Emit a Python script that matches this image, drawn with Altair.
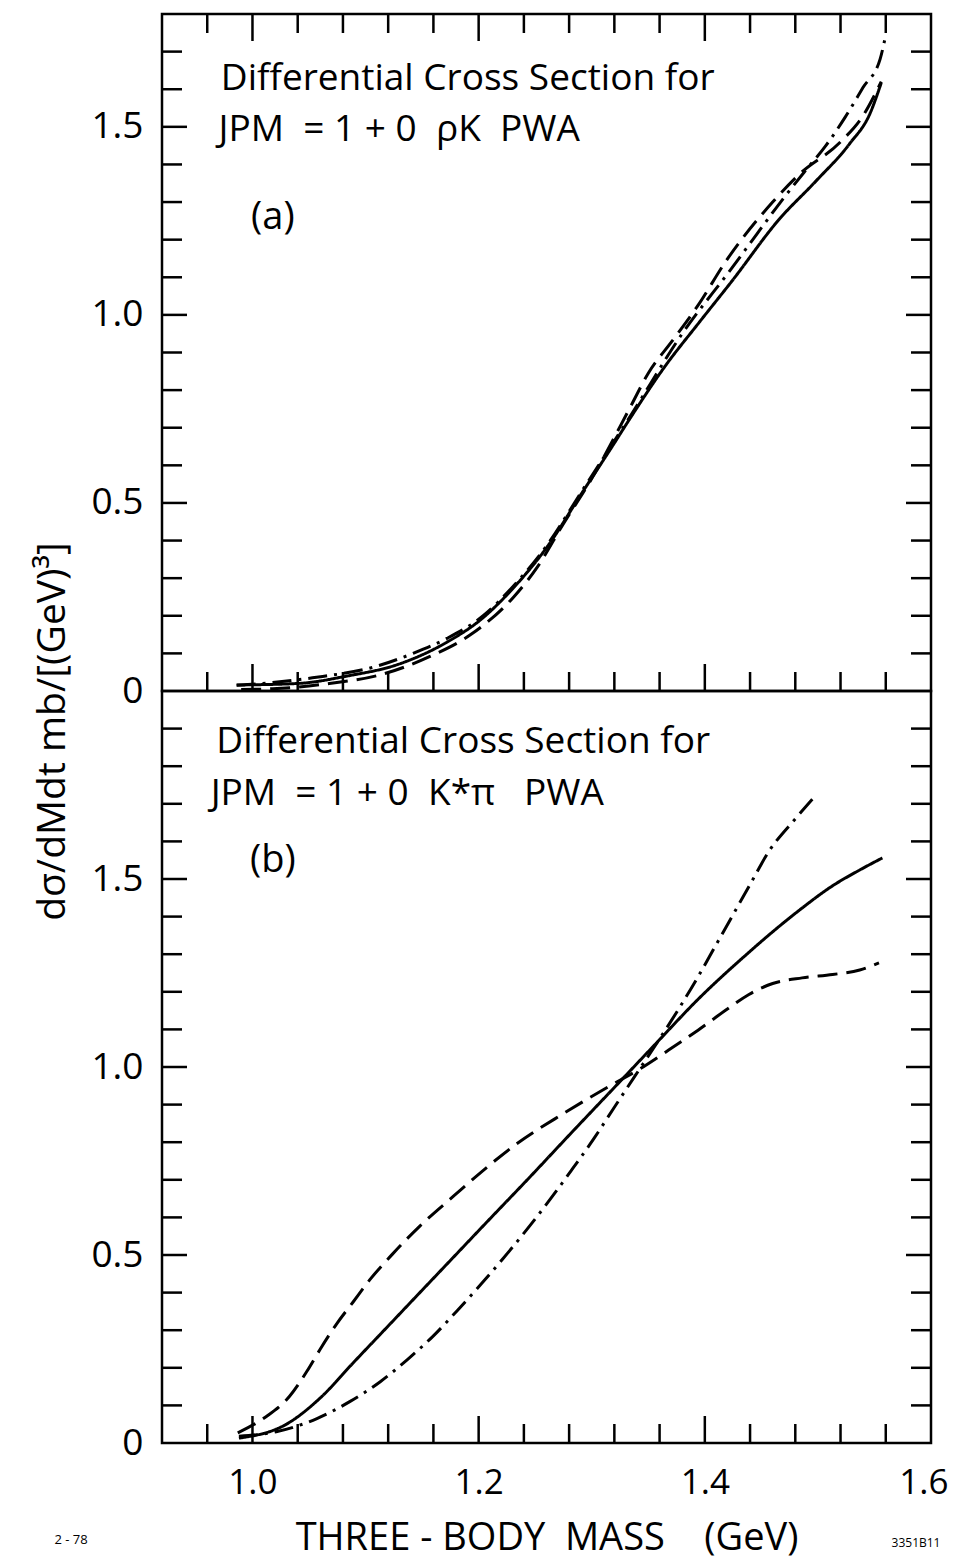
import altair as alt
import pandas as pd

# ---------------- data ----------------
# panel (a): rho K PWA
A_SOLID_X = [0.986, 1.04, 1.084, 1.128, 1.172, 1.202, 1.231, 1.261, 1.291, 1.317, 1.335, 1.364, 1.395, 1.424, 1.466, 1.498, 1.528, 1.546, 1.556]
A_SOLID_Y = [0.016, 0.02, 0.04, 0.07, 0.13, 0.19, 0.275, 0.385, 0.525, 0.645, 0.73, 0.86, 0.98, 1.09, 1.255, 1.355, 1.455, 1.535, 1.617]
A_DASH_X = [0.99, 1.018, 1.068, 1.113, 1.157, 1.193, 1.231, 1.252, 1.275, 1.30, 1.335, 1.35, 1.371, 1.395, 1.418, 1.46, 1.484, 1.52, 1.54, 1.556]
A_DASH_Y = [0.004, 0.006, 0.02, 0.043, 0.092, 0.15, 0.25, 0.33, 0.445, 0.565, 0.76, 0.845, 0.93, 1.03, 1.14, 1.30, 1.375, 1.46, 1.53, 1.62]
A_DD_X = [0.986, 1.009, 1.053, 1.11, 1.142, 1.172, 1.204, 1.231, 1.261, 1.291, 1.335, 1.38, 1.424, 1.446, 1.467, 1.488, 1.507, 1.524, 1.54, 1.555, 1.559]
A_DD_Y = [0.015, 0.02, 0.035, 0.066, 0.10, 0.14, 0.20, 0.28, 0.39, 0.53, 0.735, 0.95, 1.125, 1.215, 1.30, 1.38, 1.45, 1.525, 1.605, 1.68, 1.73]

# panel (b): K* pi PWA
B_SOLID_X = [0.988, 1.03, 1.06, 1.089, 1.119, 1.148, 1.178, 1.208, 1.243, 1.282, 1.323, 1.356, 1.394, 1.439, 1.457, 1.484, 1.513, 1.537, 1.557]
B_SOLID_Y = [0.013, 0.05, 0.12, 0.213, 0.308, 0.40, 0.495, 0.59, 0.70, 0.825, 0.955, 1.06, 1.18, 1.305, 1.352, 1.418, 1.482, 1.524, 1.556]
B_DASH_X = [0.987, 1.012, 1.033, 1.048, 1.06, 1.074, 1.089, 1.104, 1.124, 1.148, 1.178, 1.208, 1.231, 1.276, 1.315, 1.341, 1.368, 1.394, 1.418, 1.439, 1.46, 1.486, 1.513, 1.537, 1.554]
B_DASH_Y = [0.027, 0.07, 0.125, 0.19, 0.25, 0.315, 0.375, 0.435, 0.503, 0.577, 0.657, 0.735, 0.79, 0.878, 0.948, 0.992, 1.045, 1.098, 1.15, 1.193, 1.222, 1.237, 1.246, 1.258, 1.277]
B_DD_X = [0.988, 1.021, 1.057, 1.086, 1.113, 1.137, 1.16, 1.181, 1.202, 1.222, 1.249, 1.282, 1.302, 1.32, 1.338, 1.359, 1.377, 1.394, 1.409, 1.424, 1.439, 1.457, 1.48, 1.498]
B_DD_Y = [0.018, 0.03, 0.065, 0.11, 0.163, 0.222, 0.285, 0.352, 0.422, 0.492, 0.592, 0.725, 0.81, 0.893, 0.975, 1.07, 1.155, 1.24, 1.32, 1.40, 1.48, 1.575, 1.66, 1.722]

STYLES = ["solid", "dashed", "dashdot"]

# axis ticks / labels
X_LABELS = [1.0, 1.2, 1.4, 1.6]
X_MAJOR_TICKS = [1.0, 1.2, 1.4]
X_MINOR_TICKS = [0.96, 1.04, 1.08, 1.12, 1.16, 1.24, 1.28, 1.32, 1.36, 1.44, 1.48, 1.52, 1.56]
Y_LABELS = [0.0, 0.5, 1.0, 1.5]
Y_MAJOR_TICKS = [0.5, 1.0, 1.5]
Y_MINOR_TICKS_A = [0.1, 0.2, 0.3, 0.4, 0.6, 0.7, 0.8, 0.9, 1.1, 1.2, 1.3, 1.4, 1.6, 1.7]
Y_MINOR_TICKS_B = [0.1, 0.2, 0.3, 0.4, 0.6, 0.7, 0.8, 0.9, 1.1, 1.2, 1.3, 1.4, 1.6, 1.7, 1.8, 1.9]

NB = "\u00a0"
# panel annotations
A_NOTE_TEXT = ["Differential Cross Section for",
               "JPM" + NB + " = 1 + 0" + NB + " \u03c1K" + NB + " PWA"]
A_NOTE_X = [0.972, 0.970]
A_NOTE_Y = [1.598, 1.463]
B_NOTE_TEXT = ["Differential Cross Section for",
               "JPM" + NB + " = 1 + 0" + NB + " K*\u03c0" + NB + NB + " PWA"]
B_NOTE_X = [0.968, 0.963]
B_NOTE_Y = [1.835, 1.697]
A_TAG = ["(a)"]; A_TAG_X = [1.018]; A_TAG_Y = [1.258]
B_TAG = ["(b)"]; B_TAG_X = [1.018]; B_TAG_Y = [1.548]
X_TITLE = "THREE" + NB + "-" + NB + "BODY" + NB + NB + "MASS" + NB + NB + NB + NB + "(GeV)"

# ---------------- layout ----------------
FONT = "Open Sans"
FW = 400
W = 769
HA = 677
HB = 752
MINOR_LEN = 19
MAJOR_LEN = 27
Y_MINOR_LEN = 20
Y_MAJOR_LEN = 25

x_scale = alt.Scale(domain=[0.92, 1.6], nice=False, zero=False)
ya_scale = alt.Scale(domain=[0, 1.8], nice=False, zero=False)
yb_scale = alt.Scale(domain=[0, 2.0], nice=False, zero=False)

dash_scale = alt.Scale(domain=STYLES, range=[[1, 0], [20, 9], [19, 7, 3, 7]])

y_label_expr = "datum.value == 0 ? '0' : format(datum.value, '.1f')"

XA_AXIS = alt.Axis(labels=False, ticks=False, domain=False, grid=False, title="")
YA_AXIS = alt.Axis(values=Y_LABELS, labelExpr=y_label_expr, ticks=False, domain=False,
                   grid=False, labelFont=FONT, labelFontSize=37, labelFontWeight=FW,
                   labelColor="black", labelPadding=19,
                   title="d\u03c3/dMdt mb/[(GeV)\u00b3]", titleFont=FONT,
                   titleFontSize=39, titleFontWeight=FW, titleColor="black",
                   titleX=-98, titleY=717, titleBaseline="alphabetic", titleAngle=270)
XB_AXIS = alt.Axis(values=X_LABELS, format=".1f", ticks=False, domain=False, grid=False,
                   labelFont=FONT, labelFontSize=35, labelFontWeight=FW,
                   labelFlush=True, labelFlushOffset=17,
                   labelColor="black", labelPadding=22,
                   title=X_TITLE, titleFont=FONT, titleFontSize=38,
                   titleFontWeight=FW, titleColor="black",
                   titleBaseline="alphabetic", titleY=106)
YB_AXIS = alt.Axis(values=Y_LABELS, labelExpr=y_label_expr, ticks=False, domain=False,
                   grid=False, labelFont=FONT, labelFontSize=37, labelFontWeight=FW,
                   labelColor="black", labelPadding=19, title="")


def curves(series):
    frames = []
    for style, xs, ys in series:
        frames.append(pd.DataFrame({"mass": xs, "sigma": ys, "style": style,
                                    "order": list(range(len(xs)))}))
    return pd.concat(frames, ignore_index=True)


def line_layer(df, yscale, xaxis, yaxis):
    return alt.Chart(df).mark_line(
        color="black", strokeWidth=3, strokeCap="butt", interpolate="monotone"
    ).encode(
        x=alt.X("mass:Q", scale=x_scale, axis=xaxis),
        y=alt.Y("sigma:Q", scale=yscale, axis=yaxis),
        strokeDash=alt.StrokeDash("style:N", scale=dash_scale, legend=None),
        detail="style:N",
        order="order:Q",
    )


def x_ticks(H, xaxis, top=True):
    layers = []
    for vals, L in ((X_MINOR_TICKS, MINOR_LEN), (X_MAJOR_TICKS, MAJOR_LEN)):
        base = alt.Chart(pd.DataFrame({"mass": vals})).mark_rule(color="black", strokeWidth=2.5)
        layers.append(base.encode(x=alt.X("mass:Q", scale=x_scale, axis=xaxis),
                                  y=alt.value(H), y2=alt.value(H - L)))
        if top:
            layers.append(base.encode(x=alt.X("mass:Q", scale=x_scale, axis=xaxis),
                                      y=alt.value(0), y2=alt.value(L)))
    return layers


def y_ticks(ys, yaxis, minor):
    layers = []
    for vals, L in ((minor, Y_MINOR_LEN), (Y_MAJOR_TICKS, Y_MAJOR_LEN)):
        base = alt.Chart(pd.DataFrame({"sigma": vals})).mark_rule(color="black", strokeWidth=2.5)
        layers.append(base.encode(y=alt.Y("sigma:Q", scale=ys, axis=yaxis),
                                  x=alt.value(0), x2=alt.value(L)))
        layers.append(base.encode(y=alt.Y("sigma:Q", scale=ys, axis=yaxis),
                                  x=alt.value(W), x2=alt.value(W - L)))
    return layers


def notes(texts, xs, ys, yscale, xaxis, yaxis, size, align="left", baseline="alphabetic"):
    return alt.Chart(pd.DataFrame({"mass": xs, "sigma": ys, "label": texts})).mark_text(
        font=FONT, fontSize=size, align=align, baseline=baseline, color="black", fontWeight=FW
    ).encode(x=alt.X("mass:Q", scale=x_scale, axis=xaxis),
             y=alt.Y("sigma:Q", scale=yscale, axis=yaxis),
             text="label:N")


# ---------- panel (a) ----------
a_lines = line_layer(curves([("solid", A_SOLID_X, A_SOLID_Y),
                             ("dashed", A_DASH_X, A_DASH_Y),
                             ("dashdot", A_DD_X, A_DD_Y)]), ya_scale, XA_AXIS, YA_AXIS)

panel_a = alt.layer(
    a_lines,
    *x_ticks(HA, XA_AXIS, top=True),
    *y_ticks(ya_scale, YA_AXIS, Y_MINOR_TICKS_A),
    notes(A_NOTE_TEXT, A_NOTE_X, A_NOTE_Y, ya_scale, XA_AXIS, YA_AXIS, 37),
    notes(A_TAG, A_TAG_X, A_TAG_Y, ya_scale, XA_AXIS, YA_AXIS, 38, align="center", baseline="middle"),
).properties(width=W, height=HA)

# ---------- panel (b) ----------
b_lines = line_layer(curves([("solid", B_SOLID_X, B_SOLID_Y),
                             ("dashed", B_DASH_X, B_DASH_Y),
                             ("dashdot", B_DD_X, B_DD_Y)]), yb_scale, XB_AXIS, YB_AXIS)

footer_left = alt.Chart(pd.DataFrame({"label": ["2 - 78"]})).mark_text(
    font=FONT, fontSize=13, color="black", align="center", baseline="middle"
).encode(text="label:N", x=alt.value(-91), y=alt.value(HB + 97))
footer_right = alt.Chart(pd.DataFrame({"label": ["3351B11"]})).mark_text(
    font=FONT, fontSize=12, color="black", align="center", baseline="middle"
).encode(text="label:N", x=alt.value(754), y=alt.value(HB + 100))

panel_b = alt.layer(
    b_lines,
    *x_ticks(HB, XB_AXIS, top=False),
    *y_ticks(yb_scale, YB_AXIS, Y_MINOR_TICKS_B),
    notes(B_NOTE_TEXT, B_NOTE_X, B_NOTE_Y, yb_scale, XB_AXIS, YB_AXIS, 37),
    notes(B_TAG, B_TAG_X, B_TAG_Y, yb_scale, XB_AXIS, YB_AXIS, 38, align="center", baseline="middle"),
    footer_left,
    footer_right,
).properties(width=W, height=HB)

chart = alt.vconcat(panel_a, panel_b, spacing=0, bounds="flush").properties(
    padding={"left": 31, "top": 11, "right": 2, "bottom": 0},
    background="white",
).configure_view(
    stroke="black", strokeWidth=2.5
)

chart.save("out.html", embed_options={"renderer": "svg", "actions": False})
